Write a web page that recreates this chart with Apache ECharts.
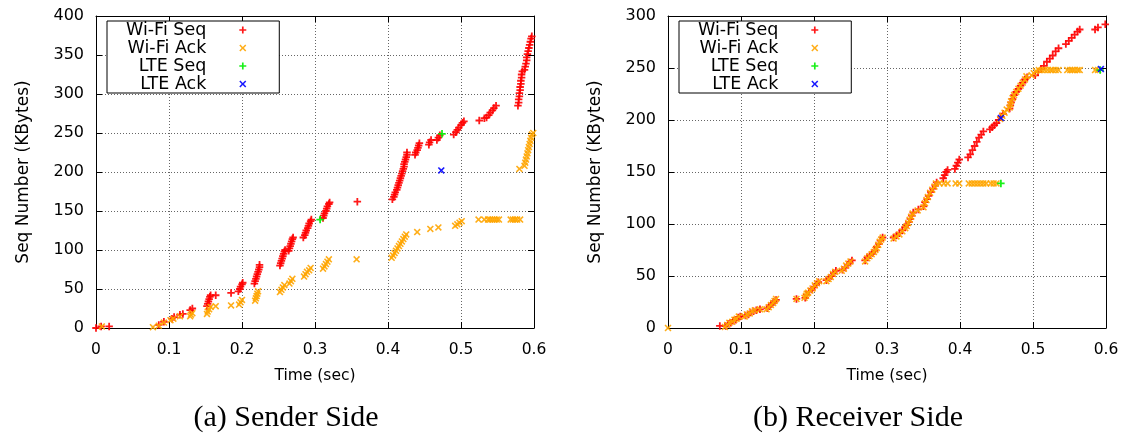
<!DOCTYPE html>
<html>
<head>
<meta charset="utf-8">
<script src="https://cdn.jsdelivr.net/npm/echarts@6/dist/echarts.min.js"></script>
<style>
html,body{margin:0;padding:0;background:#fff;}
#chart{width:1127px;height:437px;}
</style>
</head>
<body>
<div id="chart"></div>
<script>
// ---------- data (time in sec, seq number in KBytes) ----------
const seriesNames = ['Wi-Fi Seq', 'Wi-Fi Ack', 'LTE Seq', 'LTE Ack'];
const captions = ['(a) Sender Side', '(b) Receiver Side'];

const sendWifiSeq = [
[0,0],[0.007,2],[0.018,2],
[0.086,4],[0.093,8],[0.104,12],[0.107,14],[0.115,17],[0.119,18],[0.129,23],[0.132,25],
[0.152,28],[0.153,31],[0.154,34],[0.155,37],[0.156,40],[0.157,42],[0.164,42],[0.185,45],
[0.195,47],[0.197,50],[0.198,53],[0.200,56],[0.201,58],
[0.217,57],[0.218,60],[0.219,63],[0.220,66],[0.221,69],[0.222,72],[0.223,75],[0.224,78],[0.224,81],
[0.252,80],[0.253,83],[0.254,86],[0.255,89],[0.256,92],[0.257,95],[0.258,98],[0.259,100],
[0.264,99],[0.265,102],[0.266,105],[0.267,108],[0.268,111],[0.269,114],[0.270,116],
[0.284,116],[0.286,119],[0.287,122],[0.288,125],[0.290,128],[0.291,131],[0.292,134],[0.294,137],[0.295,139],
[0.311,141],[0.312,144],[0.313,147],[0.315,150],[0.316,153],[0.317,156],[0.319,159],[0.320,161],
[0.358,162],
[0.406,165],[0.408,168],[0.409,171],[0.410,174],[0.412,177],[0.413,180],[0.414,183],[0.415,186],[0.416,189],[0.417,192],
[0.418,195],[0.419,198],[0.420,201],[0.421,204],[0.422,207],[0.422,210],[0.423,213],[0.424,216],[0.425,219],[0.426,222],[0.426,225],
[0.437,222],[0.438,225],[0.440,228],[0.441,231],[0.442,234],[0.443,237],
[0.456,235],[0.457,238],[0.459,241],
[0.467,241],[0.469,244],[0.471,247],
[0.490,248],[0.493,251],[0.495,254],[0.497,257],[0.500,260],[0.502,263],[0.504,265],
[0.525,266],[0.532,269],
[0.535,270],[0.538,273],[0.540,276],[0.543,279],[0.545,282],[0.548,285],
[0.578,285],[0.579,289],[0.579,293],[0.580,297],[0.580,301],[0.581,305],[0.581,309],[0.582,313],[0.582,317],[0.583,321],[0.583,325],[0.584,329],
[0.587,331],[0.588,335],[0.589,339],[0.590,343],[0.590,347],[0.591,351],[0.592,355],[0.593,359],[0.594,363],[0.595,367],[0.596,371],[0.597,374]
];
const sendWifiAck = [
[0.008,2],[0.078,1],[0.086,3],[0.093,7],[0.102,10],[0.106,12],[0.115,15],[0.129,15],[0.130,17],[0.132,19],
[0.152,18],[0.153,21],[0.155,24],[0.157,27],[0.164,28],[0.185,29],
[0.196,30],[0.198,33],[0.200,36],
[0.218,35],[0.219,38],[0.220,41],[0.221,44],[0.222,47],
[0.252,46],[0.254,49],[0.256,52],[0.258,55],
[0.265,57],[0.267,60],[0.269,63],
[0.285,66],[0.287,69],[0.289,72],[0.292,74],[0.294,77],
[0.311,76],[0.313,79],[0.315,82],[0.317,85],[0.319,88],
[0.357,88],
[0.405,90],[0.407,93],[0.409,96],[0.411,99],[0.413,102],[0.415,105],[0.417,108],[0.419,111],[0.421,114],[0.423,117],[0.425,120],
[0.440,123],[0.458,127],[0.469,129],
[0.492,131],[0.495,133],[0.498,135],[0.501,137],
[0.524,139],[0.532,139],[0.537,139],[0.540,139],[0.543,139],[0.546,139],[0.549,139],[0.552,139],
[0.568,139],[0.571,139],[0.574,139],[0.577,139],[0.581,139],
[0.580,204],
[0.587,208],[0.588,212],[0.589,216],[0.590,220],[0.591,224],[0.592,228],[0.593,232],[0.594,236],[0.595,240],[0.596,244],[0.597,248],[0.599,250]
];
const sendLteSeq = [[0.307,139],[0.474,249]];
const sendLteAck = [[0.473,202]];

const recvWifiSeq = [
[0.071,2],[0.079,2],[0.082,4],[0.086,5],[0.089,7],[0.093,8],[0.096,10],[0.099,11],
[0.106,12],[0.110,13],[0.113,15],[0.117,16],[0.121,17],[0.126,18],
[0.136,19],[0.139,21],[0.142,23],[0.145,25],[0.148,27],
[0.176,28],[0.188,29],[0.190,32],
[0.193,35],[0.197,37],[0.200,39],[0.203,42],[0.206,44],
[0.217,46],[0.221,48],[0.224,50],[0.227,53],[0.230,55],
[0.239,56],[0.243,58],[0.246,61],[0.249,63],[0.252,65],
[0.270,65],[0.273,68],[0.277,70],[0.280,72],[0.283,74],
[0.286,78],[0.289,81],[0.291,84],[0.294,87],
[0.309,87],[0.313,89],[0.317,91],[0.321,94],[0.325,97],
[0.327,99],[0.330,102],[0.332,105],[0.334,108],[0.336,111],
[0.343,114],
[0.350,117],[0.352,121],[0.355,124],[0.357,127],[0.360,131],[0.363,134],[0.366,137],[0.368,140],
[0.377,144],[0.379,147],[0.381,150],[0.383,152],
[0.393,153],[0.395,156],[0.397,159],[0.399,162],
[0.411,164],[0.414,167],[0.417,171],[0.420,175],[0.423,179],[0.426,183],[0.429,186],[0.432,189],
[0.441,191],[0.444,193],[0.447,195],[0.450,197],
[0.453,200],[0.456,203],[0.459,206],
[0.468,211],[0.469,214],[0.470,217],[0.472,220],
[0.474,224],[0.477,227],[0.480,230],[0.483,233],[0.486,236],[0.489,239],[0.492,241],
[0.503,243],[0.507,246],[0.511,249],[0.515,252],[0.519,256],[0.523,259],[0.527,262],[0.531,266],[0.535,269],
[0.545,273],[0.549,276],[0.553,279],[0.557,282],[0.561,285],[0.564,287],
[0.585,287],[0.589,289],[0.599,292]
];
const recvWifiAck = [
[0,0],[0.078,1],[0.081,3],[0.084,5],[0.088,6],[0.091,8],[0.094,9],[0.097,11],
[0.105,11],[0.108,13],[0.112,14],[0.115,16],[0.119,17],[0.126,18],
[0.135,18],[0.138,20],[0.141,22],[0.144,24],[0.146,26],[0.148,28],
[0.176,28],[0.187,29],[0.189,31],[0.190,33],
[0.192,34],[0.195,36],[0.198,38],[0.201,41],[0.204,43],[0.207,45],
[0.217,45],[0.220,47],[0.223,49],[0.226,52],[0.229,54],
[0.238,55],[0.241,57],[0.244,60],[0.247,62],[0.250,64],
[0.270,64],[0.273,67],[0.276,69],[0.279,71],[0.282,73],[0.284,75],
[0.286,77],[0.288,80],[0.290,83],[0.292,85],[0.294,87],
[0.309,86],[0.313,88],[0.317,90],[0.321,93],[0.325,96],
[0.327,98],[0.329,101],[0.331,104],[0.333,107],[0.335,110],
[0.342,113],
[0.350,116],[0.352,120],[0.354,123],[0.356,126],[0.359,130],[0.362,133],[0.365,136],[0.367,139],
[0.372,139],[0.378,139],[0.383,139],[0.394,139],[0.399,139],[0.412,139],[0.416,139],[0.420,139],[0.424,139],
[0.428,139],[0.432,139],[0.436,139],[0.442,139],[0.446,139],[0.450,139],
[0.455,201],[0.458,204],[0.461,207],[0.464,210],
[0.468,212],[0.469,215],[0.470,218],[0.472,221],
[0.474,224],[0.477,227],[0.480,230],[0.483,233],[0.486,236],[0.489,239],[0.491,242],
[0.498,243],[0.501,245],[0.504,247],
[0.508,248],[0.512,248],[0.516,248],[0.520,248],[0.524,248],[0.527,248],[0.531,248],[0.535,248],
[0.547,248],[0.551,248],[0.554,248],[0.557,248],[0.561,248],[0.564,248],
[0.585,248],[0.589,248]
];
const recvLteSeq = [[0.456,139],[0.592,248]];
const recvLteAck = [[0.456,202],[0.593,249]];

const xMax = 0.6, xStep = 0.1;
const yMaxSend = 400, yMaxRecv = 300, yStep = 50;

// ---------- styling ----------
const PLUS = 'path://M3.8,0H6.2V3.8H10V6.2H6.2V10H3.8V6.2H0V3.8H3.8Z';
const CROSS = 'path://M1.6,0L5,3.4L8.4,0L10,1.6L6.6,5L10,8.4L8.4,10L5,6.6L1.6,10L0,8.4L3.4,5L0,1.6Z';
const colors = ['#ff0000', '#ffa500', '#00ee00', '#0000ff'];
const symbols = [PLUS, CROSS, PLUS, CROSS];
const sizes = [7.5, 7, 7.5, 7];
const FONT = 'DejaVu Sans';

const gridLine = {show: true, lineStyle: {color: '#666', type: [1, 2], width: 1}};
const blackLine = {show: true, lineStyle: {color: '#000', width: 1}};

function xAxes(gi) {
  return [
    {gridIndex: gi, type: 'value', min: 0, max: xMax, interval: xStep, position: 'bottom',
     axisLine: Object.assign({onZero: false}, blackLine),
     axisTick: {show: true, inside: true, length: 6, lineStyle: {color: '#000'}},
     axisLabel: {color: '#000', fontFamily: FONT, fontSize: 15.5, margin: 14,
       formatter: v => String(Math.round(v * 10) / 10)},
     splitLine: gridLine,
     name: 'Time (sec)', nameLocation: 'middle', nameGap: 40,
     nameTextStyle: {color: '#000', fontFamily: FONT, fontSize: 15.5}},
    {gridIndex: gi, type: 'value', min: 0, max: xMax, interval: xStep, position: 'top',
     axisLine: Object.assign({onZero: false}, blackLine),
     axisTick: {show: true, inside: true, length: 6, lineStyle: {color: '#000'}},
     axisLabel: {show: false}, splitLine: {show: false}}
  ];
}
function yAxes(gi, ymax) {
  return [
    {gridIndex: gi, type: 'value', min: 0, max: ymax, interval: yStep, position: 'left',
     axisLine: Object.assign({onZero: false}, blackLine),
     axisTick: {show: true, inside: true, length: 6, lineStyle: {color: '#000'}},
     axisLabel: {color: '#000', fontFamily: FONT, fontSize: 16, margin: 12},
     splitLine: gridLine,
     name: 'Seq Number (KBytes)', nameLocation: 'middle', nameGap: 64,
     nameTextStyle: {color: '#000', fontFamily: FONT, fontSize: 17}},
    {gridIndex: gi, type: 'value', min: 0, max: ymax, interval: yStep, position: 'right',
     axisLine: Object.assign({onZero: false}, blackLine),
     axisTick: {show: true, inside: true, length: 6, lineStyle: {color: '#000'}},
     axisLabel: {show: false}, splitLine: {show: false}}
  ];
}
function makeSeries(gi, arrays) {
  return arrays.map((d, i) => ({
    name: seriesNames[i], type: 'scatter',
    xAxisIndex: gi * 2, yAxisIndex: gi * 2,
    data: d, symbol: symbols[i], symbolSize: sizes[i],
    itemStyle: {color: colors[i], opacity: 0.9}, clip: false, silent: true,
    z: 2 + i
  }));
}
function makeLegend(left) {
  return {
    left: left, top: 21, orient: 'vertical', align: 'right',
    padding: [0, 33, 0, 19], itemGap: 0, itemWidth: 7, itemHeight: 7,
    borderColor: '#000', borderWidth: 1, backgroundColor: '#fff',
    selectedMode: false,
    formatter: '{a|{name}}',
    textStyle: {rich: {a: {fontFamily: FONT, fontSize: 17.5, color: '#000', lineHeight: 19, padding: [0, 28, 0, 0]}}},
    data: seriesNames.map((n, i) => ({name: n, icon: symbols[i]}))
  };
}

const chart = echarts.init(document.getElementById('chart'), null, {renderer: 'canvas'});
chart.setOption({
  animation: false,
  backgroundColor: '#fff',
  grid: [
    {left: 96, top: 16, width: 438, height: 312},
    {left: 668, top: 16, width: 438, height: 312}
  ],
  xAxis: [...xAxes(0), ...xAxes(1)],
  yAxis: [...yAxes(0, yMaxSend), ...yAxes(1, yMaxRecv)],
  legend: [makeLegend(107), makeLegend(679)],
  series: [
    ...makeSeries(0, [sendWifiSeq, sendWifiAck, sendLteSeq, sendLteAck]),
    ...makeSeries(1, [recvWifiSeq, recvWifiAck, recvLteSeq, recvLteAck])
  ],
  graphic: [
    {type: 'text', x: 286, y: 418, style: {text: captions[0], fill: '#000',
      font: '30px "Liberation Serif"', align: 'center', verticalAlign: 'middle'}},
    {type: 'text', x: 858, y: 418, style: {text: captions[1], fill: '#000',
      font: '30px "Liberation Serif"', align: 'center', verticalAlign: 'middle'}}
  ]
});
</script>
</body>
</html>
